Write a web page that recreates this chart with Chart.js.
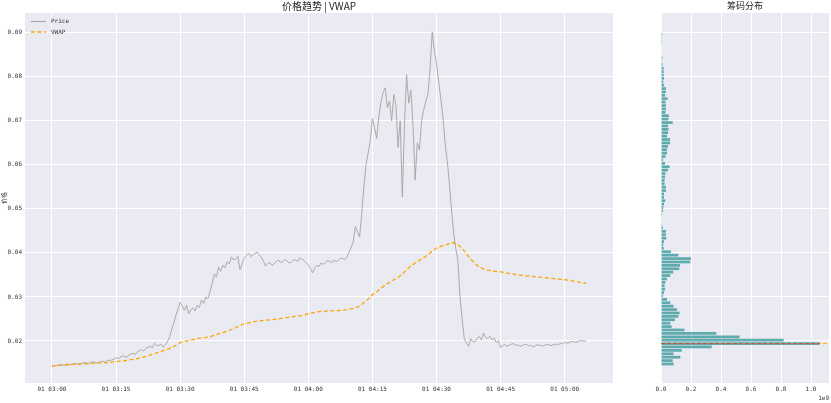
<!DOCTYPE html>
<html lang="zh">
<head>
<meta charset="UTF-8">
<title>价格趋势 | VWAP</title>
<script src="https://cdn.jsdelivr.net/npm/chart.js"></script>
<style>
  body { margin: 0; background: #fff; width: 831px; height: 403px; overflow: hidden; position: relative; }
  canvas { position: absolute; top: 0; }
  #priceChart { left: 0; }
  #chipChart { left: 640px; }
</style>
</head>
<body>
<canvas id="priceChart" width="620" height="403"></canvas>
<canvas id="chipChart" width="191" height="403"></canvas>

<script>
// price every 30 s after 01 03:00
const priceSeries = [
  0.0143,0.0144,0.0144,0.0145,0.0146,0.0145,0.0145,0.0147,0.0147,0.0146,0.0148,0.0149,0.0147,0.0148,0.0149,
  0.0151,0.0150,0.0149,0.0151,0.0153,0.0152,0.0150,0.0151,0.0153,0.0154,0.0152,0.0156,0.0155,0.0157,0.0159,
  0.0162,0.0160,0.0163,0.0166,0.0165,0.0163,0.0168,0.0170,0.0172,0.0169,0.0176,0.0178,0.0180,0.0177,0.0183,
  0.0186,0.0188,0.0184,0.0195,0.0189,0.0190,0.0193,0.0186,0.0190,0.0198,0.0208,0.0225,0.0240,0.0258,0.0272,
  0.0288,0.0279,0.0270,0.0281,0.0262,0.0270,0.0275,0.0268,0.0281,0.0276,0.0293,0.0285,0.0300,0.0296,0.0312,
  0.0330,0.0352,0.0345,0.0368,0.0358,0.0372,0.0366,0.0380,0.0375,0.0391,0.0384,0.0386,0.0392,0.0362,0.0375,
  0.0388,0.0394,0.0400,0.0392,0.0395,0.0399,0.0402,0.0396,0.0390,0.0381,0.0370,0.0376,0.0378,0.0372,0.0375,
  0.0381,0.0384,0.0378,0.0380,0.0385,0.0382,0.0377,0.0379,0.0383,0.0385,0.0380,0.0389,0.0386,0.0382,0.0378,
  0.0372,0.0364,0.0355,0.0366,0.0372,0.0369,0.0377,0.0374,0.0378,0.0382,0.0381,0.0378,0.0384,0.0380,0.0383,
  0.0387,0.0388,0.0384,0.0390,0.0400,0.0412,0.0425,0.0460,0.0448,0.0436,0.0490,0.0550,0.0600,0.0627,0.0655,
  0.0705,0.0685,0.0660,0.0710,0.0742,0.0765,0.0775,0.0730,0.0745,0.0700,0.0760,0.0735,0.0640,0.0700,0.0527,
  0.0690,0.0805,0.0740,0.0770,0.0690,0.0566,0.0650,0.0634,0.0700,0.0725,0.0745,0.0760,0.0820,0.0902,0.0860,
  0.0830,0.0790,0.0750,0.0710,0.0650,0.0610,0.0559,0.0500,0.0445,0.0410,0.0384,0.0300,0.0250,0.0205,0.0195,
  0.0188,0.0205,0.0198,0.0198,0.0206,0.0210,0.0202,0.0218,0.0208,0.0205,0.0211,0.0202,0.0207,0.0196,0.0201,
  0.0185,0.0189,0.0192,0.0188,0.0190,0.0193,0.0194,0.0190,0.0191,0.0188,0.0189,0.0192,0.0192,0.0189,0.0190,
  0.0187,0.0188,0.0191,0.0191,0.0189,0.0189,0.0191,0.0192,0.0190,0.0190,0.0192,0.0193,0.0191,0.0195,0.0193,
  0.0197,0.0195,0.0196,0.0198,0.0199,0.0197,0.0198,0.0200,0.0201,0.0199,0.0200
];
// VWAP every minute after 01 03:00
const vwapSeries = [
  0.0143,0.0144,0.0145,0.0145,0.0146,0.0147,0.0147,0.0148,0.0148,0.0149,0.0149,0.0150,0.0150,0.0151,0.0152,
  0.0153,0.0154,0.0155,0.0157,0.0158,0.0160,0.0162,0.0165,0.0168,0.0171,0.0174,0.0178,0.0181,0.0185,0.0190,
  0.0196,0.0199,0.0201,0.0203,0.0205,0.0207,0.0208,0.0210,0.0213,0.0216,0.0219,0.0222,0.0226,0.0230,0.0235,
  0.0239,0.0241,0.0243,0.0245,0.0246,0.0247,0.0248,0.0249,0.0250,0.0252,0.0253,0.0255,0.0256,0.0257,0.0259,
  0.0262,0.0264,0.0266,0.0267,0.0268,0.0268,0.0269,0.0269,0.0270,0.0271,0.0273,0.0275,0.0279,0.0287,0.0295,
  0.0305,0.0312,0.0320,0.0327,0.0333,0.0339,0.0344,0.0352,0.0362,0.0370,0.0377,0.0383,0.0389,0.0396,0.0404,
  0.0411,0.0415,0.0418,0.0421,0.0423,0.0418,0.0411,0.0398,0.0386,0.0376,0.0368,0.0364,0.0361,0.0359,0.0358,
  0.0357,0.0355,0.0353,0.0352,0.0350,0.0349,0.0348,0.0347,0.0346,0.0345,0.0344,0.0343,0.0342,0.0341,0.0340,
  0.0339,0.0338,0.0336,0.0334,0.0332,0.0331
];

const timeTicks = [0, 15, 30, 45, 60, 75, 90, 105, 120];
const timeTickLabels = ['01 03:00','01 03:15','01 03:30','01 03:45','01 04:00','01 04:15','01 04:30','01 04:45','01 05:00'];
const priceTicks = [0.02, 0.03, 0.04, 0.05, 0.06, 0.07, 0.08, 0.09];

// chip distribution, volume in units of 1e9, lowest price bin first
const chipVolume = [
  0.084,0.078,0.129,0.084,0.138,0.338,1.056,0.818,0.524,0.369,
  0.156,0.071,0.062,0.093,0.116,0.124,0.107,0.084,0.062,0.040,
  0.013,0.020,0.027,0.024,0.029,0.040,0.062,0.082,0.122,0.127,
  0.195,0.200,0.116,0.067,0.018,0.015,0.020,0.036,0.033,0.033,
  0.013,0.007,0.005,0.005,0.007,0.013,0.015,0.020,0.029,0.020,
  0.020,0.033,0.033,0.024,0.024,0.027,0.030,0.047,0.058,0.027,
  0.013,0.030,0.040,0.040,0.047,0.060,0.060,0.040,0.047,0.050,
  0.047,0.078,0.050,0.053,0.030,0.033,0.033,0.030,0.044,0.027,
  0.033,0.033,0.020,0.015,0.020,0.018,0.018,0.018,0.010,0.006,
  0.009,0.003,0.002,0.004,0.001,0.006,0.001,0.009
];
const chipLow = 0.01477, chipHigh = 0.0897;
const chipTicks = [0, 0.2, 0.4, 0.6, 0.8, 1.0];
const pocPrice = 0.0194;

const Y_MIN = 0.01045, Y_MAX = 0.0945;
const tickFont = { family: 'DejaVu Sans Mono', size: 6 };
const tickColor = '#333';

const chipStep = (chipHigh - chipLow) / (chipVolume.length - 1);
const chipPrices = chipVolume.map((_, i) => chipLow + i * chipStep);

const bgPlugin = {
  id: 'bg',
  beforeDraw(chart) {
    const { ctx, chartArea: a } = chart;
    ctx.save();
    ctx.fillStyle = '#EAEAF2';
    ctx.fillRect(a.left, a.top, a.right - a.left, a.bottom - a.top);
    ctx.restore();
  }
};

function drawTitle(chart, text, size) {
  const { ctx, chartArea: a } = chart;
  ctx.save();
  ctx.font = size + 'px "Noto Sans CJK SC"';
  ctx.fillStyle = '#262626';
  ctx.textAlign = 'center';
  ctx.textBaseline = 'middle';
  ctx.fillText(text, (a.left + a.right) / 2, 6);
  ctx.restore();
}

// main price chart
new Chart(document.getElementById('priceChart'), {
  type: 'line',
  data: {
    datasets: [
      {
        label: 'Price',
        data: priceSeries.map((v, i) => ({ x: i * 0.5, y: v })),
        borderColor: '#a3a3a3',
        borderWidth: 0.9,
        pointRadius: 0,
        order: 1
      },
      {
        label: 'VWAP',
        data: vwapSeries.map((v, i) => ({ x: i, y: v })),
        borderColor: '#FFA500',
        borderWidth: 1.3,
        borderDash: [4, 2.5],
        pointRadius: 0,
        order: 0
      }
    ]
  },
  options: {
    responsive: false,
    animation: false,
    devicePixelRatio: 1,
    layout: { padding: { top: 13, right: 7, left: 0, bottom: 0 } },
    plugins: { legend: { display: false }, tooltip: { enabled: false } },
    scales: {
      x: {
        type: 'linear',
        min: -6.3, max: 131.3,
        afterBuildTicks: s => { s.ticks = timeTicks.map(v => ({ value: v })); },
        afterFit: s => { s.height = 20; },
        ticks: {
          autoSkip: false, maxRotation: 0, padding: 3,
          font: tickFont, color: tickColor,
          callback: v => timeTickLabels[timeTicks.indexOf(v)]
        },
        grid: { color: '#ffffff', lineWidth: 1, drawTicks: false },
        border: { display: false }
      },
      y: {
        min: Y_MIN, max: Y_MAX,
        afterBuildTicks: s => { s.ticks = priceTicks.map(v => ({ value: v })); },
        afterFit: s => { s.width = 25; },
        ticks: { padding: 3, font: tickFont, color: tickColor, callback: v => v.toFixed(2) },
        grid: { color: '#ffffff', lineWidth: 1, drawTicks: false },
        border: { display: false },
        title: { display: true, text: '价格', font: { family: 'Noto Sans CJK SC', size: 6 }, color: '#333', padding: 0 }
      }
    }
  },
  plugins: [bgPlugin, {
    id: 'decor',
    afterDatasetsDraw(chart) {
      const { ctx, chartArea: a } = chart;
      ctx.save();
      chart.data.datasets.forEach((ds, i) => {
        const y = a.top + 8.5 + i * 10.6;
        ctx.strokeStyle = ds.borderColor;
        ctx.lineWidth = i === 0 ? 1 : 1.5;
        ctx.setLineDash(ds.borderDash || []);
        ctx.beginPath();
        ctx.moveTo(a.left + 6, y);
        ctx.lineTo(a.left + 21, y);
        ctx.stroke();
        ctx.setLineDash([]);
        ctx.font = '6px "DejaVu Sans Mono"';
        ctx.fillStyle = '#333';
        ctx.textBaseline = 'middle';
        ctx.fillText(ds.label, a.left + 26, y);
      });
      ctx.restore();
    },
    afterDraw(chart) { drawTitle(chart, '价格趋势 | VWAP', 10); }
  }]
});

// chip distribution chart
new Chart(document.getElementById('chipChart'), {
  type: 'bar',
  data: {
    datasets: [{
      label: '筹码',
      data: chipVolume.map((v, i) => ({ x: v, y: chipPrices[i] })),
      backgroundColor: 'rgba(0, 128, 128, 0.6)',
      borderWidth: 0,
      barPercentage: 0.8,
      categoryPercentage: 1.0
    }]
  },
  options: {
    indexAxis: 'y',
    responsive: false,
    animation: false,
    devicePixelRatio: 1,
    layout: { padding: { top: 13, right: 2, left: 0, bottom: 0 } },
    plugins: { legend: { display: false }, tooltip: { enabled: false } },
    scales: {
      x: {
        type: 'linear',
        min: 0, max: 1.12,
        afterBuildTicks: s => { s.ticks = chipTicks.map(v => ({ value: v })); },
        afterFit: s => { s.height = 20; },
        ticks: { autoSkip: false, maxRotation: 0, padding: 3, font: tickFont, color: tickColor, callback: v => v.toFixed(1) },
        grid: { color: '#ffffff', lineWidth: 1, drawTicks: false },
        border: { display: false }
      },
      y: {
        type: 'linear',
        min: Y_MIN, max: Y_MAX,
        offset: false,
        afterBuildTicks: s => { s.ticks = priceTicks.map(v => ({ value: v })); },
        afterFit: s => { s.width = 21; },
        ticks: { display: false },
        grid: { color: '#ffffff', lineWidth: 1, drawTicks: false, offset: false },
        border: { display: false }
      }
    }
  },
  plugins: [bgPlugin, {
    id: 'poc',
    afterDatasetsDraw(chart) {
      const { ctx, chartArea: a, scales } = chart;
      const y = scales.y.getPixelForValue(pocPrice);
      ctx.save();
      ctx.lineWidth = 1;
      ctx.setLineDash([4, 2]);
      ctx.strokeStyle = '#FFA500';
      ctx.beginPath(); ctx.moveTo(a.left, y); ctx.lineTo(a.right, y); ctx.stroke();
      ctx.strokeStyle = '#d0473e';
      ctx.beginPath(); ctx.moveTo(a.left, y); ctx.lineTo(scales.x.getPixelForValue(1.06), y); ctx.stroke();
      ctx.restore();
    },
    afterDraw(chart) {
      const { ctx, chartArea: a } = chart;
      drawTitle(chart, '筹码分布', 9);
      ctx.save();
      ctx.font = '6px "DejaVu Sans Mono"';
      ctx.fillStyle = tickColor;
      ctx.textAlign = 'right';
      ctx.textBaseline = 'middle';
      ctx.fillText('1e9', a.right, 398);
      ctx.restore();
    }
  }]
});
</script>
</body>
</html>
